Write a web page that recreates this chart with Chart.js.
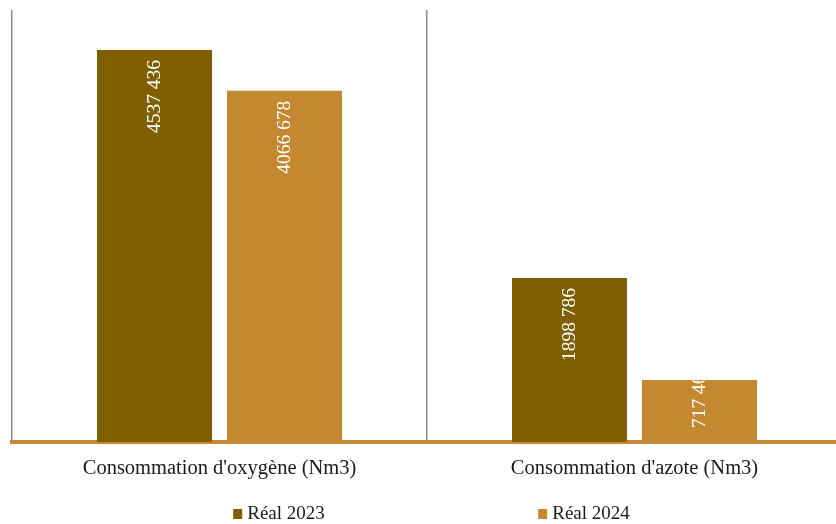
<!DOCTYPE html>
<html>
<head>
<meta charset="utf-8">
<script src="https://cdn.jsdelivr.net/npm/chart.js@4.4.1/dist/chart.umd.min.js"></script>
<style>
  html, body { margin: 0; padding: 0; background: #fff; overflow: hidden; }
  #wrap { width: 852px; height: 524px; position: relative; }
</style>
</head>
<body>
<div id="wrap"><canvas id="c"></canvas></div>
<script>
const categories = ["Consommation d'oxygène (Nm3)", "Consommation d'azote (Nm3)"];
const seriesNames = ["Réal 2023", "Réal 2024"];
const real2023 = [4537436, 1898786];
const real2024 = [4066678, 717460];
const yMin = 0;
const yMax = 5000000;

const DARK = '#7f5f00';
const ORANGE = '#c48831';
const FONT = "'Liberation Serif', 'DejaVu Serif', serif";

function fmt(v) {
  const th = Math.floor(v / 1000);
  const rest = String(v % 1000).padStart(3, '0');
  return th > 0 ? th + ' ' + rest : String(v % 1000);
}

const labelPlugin = {
  id: 'barLabels',
  afterDatasetsDraw(chart) {
    const ctx = chart.ctx;
    const base = chart.scales.y.getPixelForValue(0);
    chart.data.datasets.forEach((ds, di) => {
      const meta = chart.getDatasetMeta(di);
      meta.data.forEach((bar, i) => {
        const txt = fmt(ds.data[i]);
        ctx.save();
        ctx.font = "19.5px " + FONT;
        const len = ctx.measureText(txt).width;
        const left = bar.x - bar.width / 2;
        ctx.beginPath();
        ctx.rect(left, bar.y, bar.width, base - bar.y);
        ctx.clip();
        let endY = bar.y + 10;
        if (endY + len > base - 14) endY = base - 14 - len;
        ctx.translate(bar.x, endY);
        ctx.rotate(-Math.PI / 2);
        ctx.fillStyle = '#ffffff';
        ctx.textAlign = 'right';
        ctx.textBaseline = 'middle';
        ctx.fillText(txt, 0, 0);
        ctx.restore();
      });
    });
  }
};

const legendPlugin = {
  id: 'customLegend',
  afterDraw(chart) {
    const ctx = chart.ctx;
    const centers = [279, 584];
    ctx.save();
    ctx.font = "19px " + FONT;
    ctx.textBaseline = 'middle';
    chart.data.datasets.forEach((ds, i) => {
      const w = ctx.measureText(ds.label).width;
      const total = 9 + 5 + w;
      const x0 = centers[i] - total / 2;
      const y = 514;
      ctx.fillStyle = ds.backgroundColor;
      ctx.fillRect(x0, y - 5, 9, 10);
      ctx.fillStyle = '#1a1a1a';
      ctx.textAlign = 'left';
      ctx.fillText(ds.label, x0 + 14, y);
    });
    ctx.restore();
  }
};

new Chart(document.getElementById('c'), {
  type: 'bar',
  data: {
    labels: categories,
    datasets: [
      { label: seriesNames[0], data: real2023, backgroundColor: DARK, categoryPercentage: 0.6265, barPercentage: 0.8846 },
      { label: seriesNames[1], data: real2024, backgroundColor: ORANGE, categoryPercentage: 0.6265, barPercentage: 0.8846 }
    ]
  },
  options: {
    responsive: true,
    maintainAspectRatio: false,
    animation: false,
    layout: { padding: { left: 12, top: 10, right: 10, bottom: 0 } },
    plugins: {
      legend: { display: false },
      tooltip: { enabled: false }
    },
    scales: {
      x: {
        grid: { display: true, offset: true, color: '#8c8c8c', lineWidth: 1.5, drawTicks: false },
        border: { display: true, color: ORANGE, width: 4 },
        ticks: { color: '#1a1a1a', font: { family: FONT, size: 20.5 }, padding: 14, maxRotation: 0 },
        afterFit(s) { s.height = 82; }
      },
      y: {
        display: false,
        min: yMin,
        max: yMax,
        grid: { display: false }
      }
    }
  },
  plugins: [labelPlugin, legendPlugin]
});
</script>
</body>
</html>
